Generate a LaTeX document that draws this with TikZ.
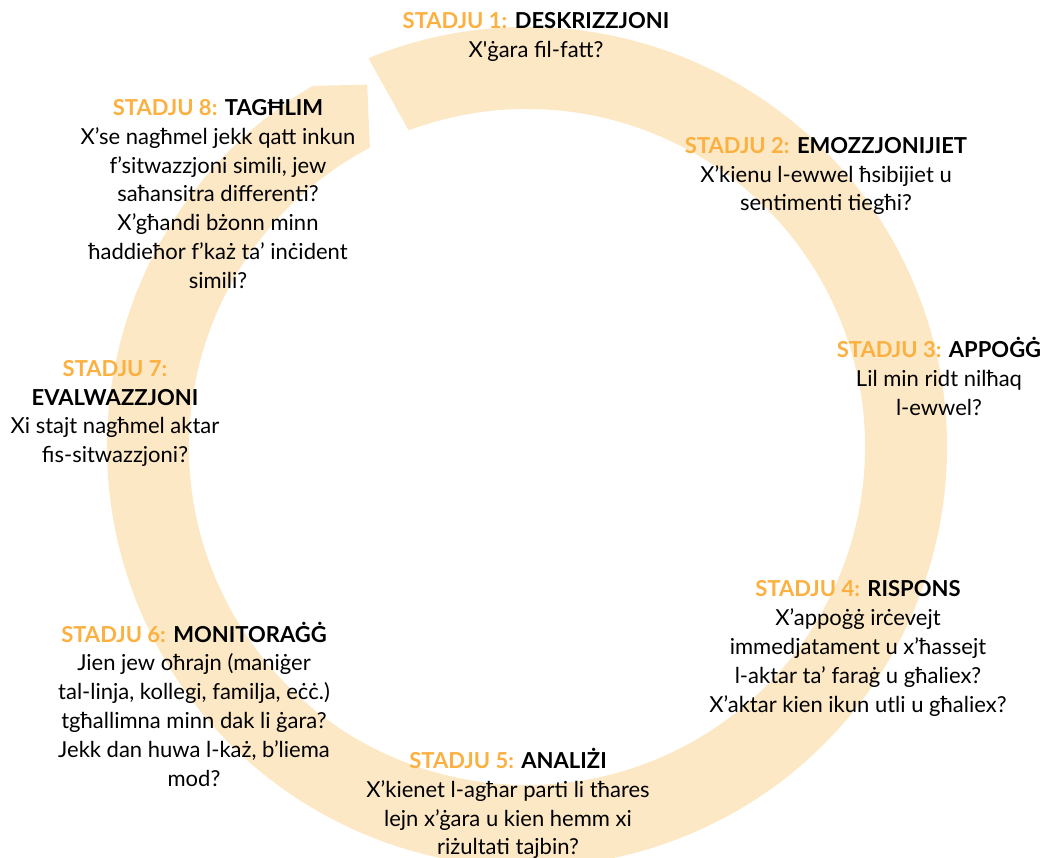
\documentclass[tikz,border=0pt]{standalone}
\usepackage{fontspec}
\setmainfont{Lato}
\definecolor{ring}{HTML}{FDE8C6}
\definecolor{stadju}{HTML}{FBB040}
\tikzset{stage/.style={align=center, inner sep=0pt, font=\fontsize{22}{28.8}\selectfont}}

\begin{document}
\begin{tikzpicture}[x=1pt, y=1pt]
        \useasboundingbox (0, 0) rectangle (1041, 858);
        \fill [ring, shift={(527, 411)}] (112.2:420) arc [start angle=112.2, end angle=-239.3, radius=420]
          -- (113.8:396) -- (-242.3:338) arc [start angle=-242.3, end angle=110.5, radius=338] -- cycle;
        \node (s1) at (536, 821) [stage] {{\bfseries\color{stadju}STADJU 1:} \textbf{DESKRIZZJONI}\\ X\textquotesingle ġara fil-fatt?};
        \node (s2) at (826, 682) [stage] {{\bfseries\color{stadju}STADJU 2:} \textbf{EMOZZJONIJIET}\\ X’kienu l-ewwel ħsibijiet u\\ sentimenti tiegħi?};
        \node (s3) at (939, 481.5) [stage] {{\bfseries\color{stadju}STADJU 3:} \textbf{APPOĠĠ}\\ Lil min ridt nilħaq\\ l-ewwel?};
        \node (s4) at (858, 209.5) [stage] {{\bfseries\color{stadju}STADJU 4:} \textbf{RISPONS}\\ X’appoġġ irċevejt\\ immedjatament u x’ħassejt\\ l-aktar ta’ faraġ u għaliex?\\ X’aktar kien ikun utli u għaliex?};
        \node (s5) at (508, 54.5) [stage] {{\bfseries\color{stadju}STADJU 5:} \textbf{ANALIŻI}\\ X’kienet l-agħar parti li tħares\\ lejn x’ġara u kien hemm xi\\ riżultati tajbin?};
        \node (s6) at (194, 154) [stage] {{\bfseries\color{stadju}STADJU 6:} \textbf{MONITORAĠĠ}\\ Jien jew oħrajn (maniġer\\ tal-linja, kollegi, familja, eċċ.)\\ tgħallimna minn dak li ġara?\\ Jekk dan huwa l-każ, b’liema\\ mod?};
        \node (s7) at (115, 444.5) [stage] {{\bfseries\color{stadju}STADJU 7:}\\ \textbf{EVALWAZZJONI}\\ Xi stajt nagħmel aktar\\ fis-sitwazzjoni?};
        \node (s8) at (218, 664) [stage] {{\bfseries\color{stadju}STADJU 8:} \textbf{TAGĦLIM}\\ X’se nagħmel jekk qatt inkun\\ f’sitwazzjoni simili, jew\\ saħansitra differenti?\\ X’għandi bżonn minn\\ ħaddieħor f’każ ta’ inċident\\ simili?};
      \end{tikzpicture}
\end{document}
